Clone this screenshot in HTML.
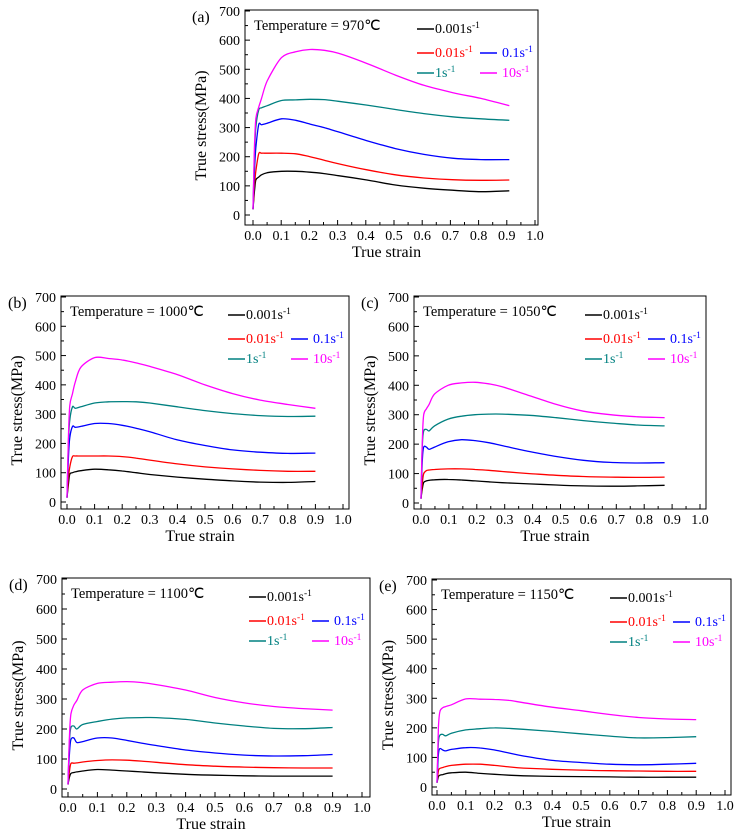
<!DOCTYPE html>
<html><head><meta charset="utf-8"><style>
html,body{margin:0;padding:0;background:#fff;}
svg{display:block;font-family:"Liberation Serif",serif;}
</style></head><body>
<svg id="fig" width="744" height="836" viewBox="0 0 744 836"></svg>
<script>
// Shared strain grid
const strain = [0,0.005,0.01,0.02,0.03,0.05,0.1,0.15,0.2,0.25,0.3,0.4,0.5,0.6,0.7,0.8,0.9];
const rates = ["0.001","0.01","0.1","1","10"];
const xTicks = [0,0.1,0.2,0.3,0.4,0.5,0.6,0.7,0.8,0.9,1.0];
const yTicks = [0,100,200,300,400,500,600,700];
const temps = ["970","1000","1050","1100","1150"];
const panelLabels = ["(a)","(b)","(c)","(d)","(e)"];
// Panel (a) 970C
const a_0001 = [20,80,120,130,138,145,150,150,147,142,135,120,103,92,85,80,83];
const a_001  = [20,100,150,210,212,212,212,210,200,188,176,155,138,127,121,119,120];
const a_01   = [20,150,230,310,310,315,330,325,312,300,285,255,228,208,195,190,190];
const a_1    = [20,200,300,360,368,375,393,395,397,396,390,377,362,348,337,330,325];
const a_10   = [20,230,330,370,400,460,540,560,568,565,555,520,480,445,420,400,375];
// Panel (b) 1000C
const b_0001 = [15,60,95,100,103,107,112,110,106,100,94,85,78,72,68,67,70];
const b_001  = [15,80,120,155,157,157,157,157,155,150,143,130,120,113,108,105,105];
const b_01   = [15,150,220,258,255,258,268,268,262,252,240,212,193,178,170,166,167];
const b_1    = [15,200,280,325,320,325,338,342,343,342,338,325,312,302,295,292,293];
const b_10   = [15,220,330,370,410,460,493,490,485,475,463,435,400,370,348,333,320];
// Panel (c) 1050C
const c_0001 = [15,50,70,75,77,79,80,78,75,72,69,65,61,58,57,58,60];
const c_001  = [15,70,100,110,112,114,116,116,114,111,107,100,94,90,88,87,88];
const c_01   = [15,150,190,190,182,190,208,215,212,205,195,175,158,145,138,136,137];
const c_1    = [15,200,245,250,245,262,285,295,300,302,302,298,290,280,272,265,262];
const c_10   = [15,220,300,320,335,370,400,408,410,405,395,365,335,312,300,293,290];
// Panel (d) 1100C
const d_0001 = [15,40,52,55,57,60,65,63,60,57,54,49,46,44,43,43,43];
const d_001  = [15,60,85,86,87,90,95,97,96,93,89,81,76,73,71,70,70];
const d_01   = [15,120,165,170,155,158,170,170,162,153,145,130,120,113,110,111,115];
const d_1    = [15,160,205,210,200,215,225,233,237,238,238,232,220,210,202,201,205];
const d_10   = [15,180,250,280,295,330,352,356,358,355,348,330,305,287,275,268,263];
// Panel (e) 1150C
const e_0001 = [15,35,40,42,45,48,50,46,43,40,38,36,35,34,33,33,33];
const e_001  = [15,55,63,66,69,73,77,77,73,68,64,60,57,55,54,53,53];
const e_01   = [15,110,130,125,122,127,133,132,125,115,105,90,83,77,75,77,80];
const e_1    = [15,150,175,178,173,182,193,197,200,198,195,188,180,172,166,167,170];
const e_10   = [15,200,255,268,272,278,298,297,296,293,285,270,258,245,235,230,228];

const series = [
  [a_0001,a_001,a_01,a_1,a_10],
  [b_0001,b_001,b_01,b_1,b_10],
  [c_0001,c_001,c_01,c_1,c_10],
  [d_0001,d_001,d_01,d_1,d_10],
  [e_0001,e_001,e_01,e_1,e_10]
];
const colors = ["#000000","#ff0000","#0000ff","#008080","#ff00ff"];
const panels = [
  {fl:245,ft:10,fr:538,fb:225,x0:253,x1:535,y0:215,y7:11,xscale:1.01},
  {fl:61,ft:296,fr:349,fb:509,x0:67,x1:343,y0:502,y7:297,xscale:1},
  {fl:414,ft:296,fr:706,fb:509,x0:421,x1:700,y0:503,y7:297,xscale:0.97},
  {fl:62,ft:578,fr:370,fb:797,x0:68,x1:362,y0:789,y7:579,xscale:1},
  {fl:432,ft:579,fr:731,fb:795,x0:437,x1:725,y0:787,y7:580,xscale:1}
];
const NS="http://www.w3.org/2000/svg";
const svg=document.getElementById('fig');
function mk(tag,attrs,parent){const e=document.createElementNS(NS,tag);for(const k in attrs)e.setAttribute(k,attrs[k]);(parent||svg).appendChild(e);return e;}
function smoothPath(P){
  let d='M'+P[0][0].toFixed(1)+','+P[0][1].toFixed(1);
  for(let i=0;i<P.length-1;i++){
    const p0=P[Math.max(0,i-1)],p1=P[i],p2=P[i+1],p3=P[Math.min(P.length-1,i+2)];
    const t=0.15;
    const c1=[p1[0]+(p2[0]-p0[0])*t,p1[1]+(p2[1]-p0[1])*t];
    const c2=[p2[0]-(p3[0]-p1[0])*t,p2[1]-(p3[1]-p1[1])*t];
    d+=' C'+c1.map(v=>v.toFixed(1)).join(',')+' '+c2.map(v=>v.toFixed(1)).join(',')+' '+p2.map(v=>v.toFixed(1)).join(',');
  }
  return d;
}

panels.forEach((p,pi)=>{
  const g=mk('g',{});
  
  
  const sx=v=>p.x0+(p.x1-p.x0)*v;
  const sy=v=>p.y0+(p.y7-p.y0)*v/700;
  const fr=mk('rect',{x:p.fl,y:p.ft,width:p.fr-p.fl,height:p.fb-p.ft,fill:'none',stroke:'#000','stroke-width':1},g);
  
  
  xTicks.forEach((t,i)=>{
    const x=sx(t);
    mk('line',{x1:x,y1:p.fb,x2:x,y2:p.fb-5,stroke:'#000','stroke-width':1},g);
    if(i<xTicks.length-1){const xm=sx(t+0.05);mk('line',{x1:xm,y1:p.fb,x2:xm,y2:p.fb-3,stroke:'#000','stroke-width':1},g);}
    const tx=mk('text',{x:x,y:p.fb+15,'font-size':14,'text-anchor':'middle'},g);
    tx.textContent=t.toFixed(1);
    
    
  });
  yTicks.forEach((t,i)=>{
    const y=sy(t);
    mk('line',{x1:p.fl,y1:y,x2:p.fl+5,y2:y,stroke:'#000','stroke-width':1},g);
    if(i<yTicks.length-1){const ym=sy(t+50);mk('line',{x1:p.fl,y1:ym,x2:p.fl+3,y2:ym,stroke:'#000','stroke-width':1},g);}
    const tx=mk('text',{x:p.fl-5,y:y+5,'font-size':14,'text-anchor':'end'},g);
    tx.textContent=t;
    
    
  });
  const xl=mk('text',{x:(p.fl+p.fr)/2-5,y:p.fb+32,'font-size':16,'text-anchor':'middle'},g);
  xl.textContent='True strain';
  
  
  const cy=(p.ft+p.fb)/2+8;
  const yl=mk('text',{x:p.fl-39,y:cy,'font-size':16,'text-anchor':'middle',transform:`rotate(-90 ${p.fl-39} ${cy})`},g);
  yl.textContent='True stress(MPa)';
  
  
  const pl=mk('text',{x:p.fl-53,y:p.ft+12,'font-size':16},g);
  pl.textContent=panelLabels[pi];
  
  
  const tt=mk('text',{x:p.fl+9,y:p.ft+20,'font-size':14.5},g);
  tt.textContent='Temperature = '+temps[pi]+'℃';
  
  
  series[pi].forEach((vals,si)=>{
    const P=vals.map((v,k)=>[sx(strain[k]*p.xscale),sy(v)]);
    const pa=mk('path',{d:smoothPath(P),fill:'none',stroke:colors[si],'stroke-width':1.3,'stroke-linejoin':'round'},g);
    
    
  });
  const pos=[[-121,19,-103],[-121,43,-103],[-58,43,-36],[-121,63,-103],[-58,63,-36]];
  rates.forEach((r,si)=>{
    const [lx,ly,tx]=pos[si];
    const le=mk('g',{},g);
    
    
    mk('line',{x1:p.fr+lx,y1:p.ft+ly,x2:p.fr+lx+17,y2:p.ft+ly,stroke:colors[si],'stroke-width':1.5},le);
    const t=mk('text',{x:p.fr+tx,y:p.ft+ly+4,'font-size':14,fill:colors[si]},le);
    t.textContent=r+'s';
    const sup=mk('tspan',{dy:-5,'font-size':9.5},t);
    sup.textContent='-1';
  });
});
</script>
</body></html>
